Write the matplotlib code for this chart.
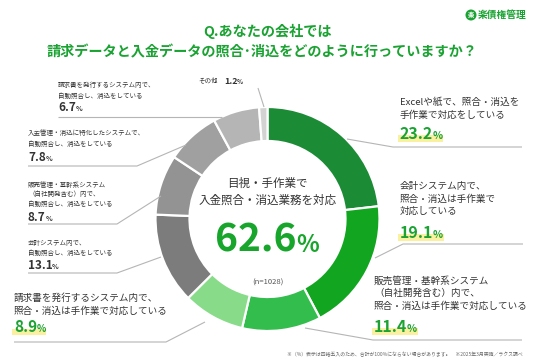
import matplotlib
matplotlib.use("Agg")
import matplotlib.pyplot as plt
from matplotlib.patches import Rectangle, Circle

plt.rcParams['font.family'] = ['Noto Sans CJK JP', 'DejaVu Sans']

# ---- data ----
categories = [
    "Excelや紙で、照合・消込を\n手作業で対応をしている",
    "会計システム内で、\n照合・消込は手作業で\n対応している",
    "販売管理・基幹系システム\n（自社開発含む）内で、\n照合・消込は手作業で対応している",
    "請求書を発行するシステム内で、\n照合・消込は手作業で対応している",
    "会計システム内で、\n自動照合し、消込をしている",
    "販売管理・基幹系システム\n（自社開発含む）内で、\n自動照合し、消込をしている",
    "入金管理・消込に特化したシステムで、\n自動照合し、消込をしている",
    "請求書を発行するシステム内で、\n自動照合し、消込をしている",
    "その他",
]
values = [23.2, 19.1, 11.4, 8.9, 13.1, 8.7, 7.8, 6.7, 1.2]
colors = ["#1b8b35", "#12a520", "#33bd4c", "#88db88",
          "#7c7c7c", "#939393", "#a0a0a0", "#b5b5b5", "#d3d3d3"]
title_lines = ["Q.あなたの会社では", "請求データと入金データの照合･消込をどのように行っていますか？"]
center_lines = ["目視・手作業で", "入金照合・消込業務を対応"]
center_value = "62.6"
n_label = "(n=1028)"
footnote = "※（%）表示は四捨五入のため、合計が100%にならない場合があります。　※2025年3月実施／ラクス調べ"
brand = "楽債権管理"

W, H = 536, 363
GREEN = "#1aa232"
TXT = "#333333"
LINE = "#b5b5b5"

fig = plt.figure(figsize=(W / 100, H / 100), dpi=100)
ax = fig.add_axes([0, 0, 1, 1])
ax.set_xlim(0, W)
ax.set_ylim(0, H)
ax.axis('off')

def Y(y):
    return H - y

cx, cy, R, RW = 267.5, 219, 112, 34
ax.pie(values, colors=colors, startangle=90, counterclock=False, radius=R,
       center=(cx, Y(cy)), frame=True,
       wedgeprops=dict(width=RW, edgecolor='white', linewidth=1.6))
ax.set_xlim(0, W)
ax.set_ylim(0, H)
ax.set_aspect('auto')
ax.axis('off')

renderer = fig.canvas.get_renderer()

def width_of(t):
    bb = t.get_window_extent(renderer=renderer)
    return bb.width  # pixels == data units

def pct(x, yc, num, size, color, psize, highlight=False):
    base = Y(yc) - size / 72 * 100 * 0.36
    t = ax.text(x, base, num, fontsize=size, fontweight='bold', color=color,
                ha='left', va='baseline', zorder=5)
    w = width_of(t)
    t2 = ax.text(x + w - 0.5, base, "%", fontsize=psize, fontweight='bold',
                 color=color, ha='left', va='baseline', zorder=5)
    w2 = width_of(t2)
    if highlight:
        hpx = size / 72 * 100
        ax.add_patch(Rectangle((x - 2, base - 0.18 * hpx), w + w2 + 2, 0.42 * hpx,
                               facecolor="#fbf0a0", edgecolor='none', zorder=4))

def lines(x, ys, text, size, color=TXT):
    for yy, s in zip(ys, text.split("\n")):
        ax.text(x, Y(yy), s, fontsize=size, color=color, ha='left', va='center')

def leader(pts):
    xs = [p[0] for p in pts]
    ys = [Y(p[1]) for p in pts]
    ax.plot(xs, ys, color=LINE, lw=0.8, solid_capstyle='butt', zorder=1)

# title
ax.text(W / 2, Y(31), title_lines[0], fontsize=10.2, fontweight='bold', color=GREEN,
        ha='center', va='center')
ax.text(W / 2 - 6, Y(52), title_lines[1], fontsize=10.2, fontweight='bold', color=GREEN,
        ha='center', va='center')

# brand
ax.add_patch(Circle((471, Y(15)), 5.5, facecolor=GREEN, edgecolor='none'))
ax.text(471, Y(15), "楽", fontsize=4.5, color='white', fontweight='bold', ha='center', va='center')
ax.text(478, Y(15), brand, fontsize=7, color=GREEN, fontweight='bold', ha='left', va='center')

# center texts
ax.text(cx, Y(183), center_lines[0], fontsize=8.3, color=TXT, ha='center', va='center')
ax.text(cx, Y(200), center_lines[1], fontsize=8.3, color=TXT, ha='center', va='center')
t = ax.text(0, 0, center_value, fontsize=28, fontweight='bold')
wv = width_of(t); t.remove()
t = ax.text(0, 0, "%", fontsize=17, fontweight='bold')
wp = width_of(t); t.remove()
x0 = cx - (wv + wp) / 2
pct(x0, 238, center_value, 28, "#17a52b", 17)
ax.text(cx, Y(283), n_label, fontsize=5.5, color="#555555", ha='center', va='center')

# left small labels
small = 4.7
numsz = 8.5
# その他
ax.text(198, Y(81), categories[8], fontsize=small, color=TXT, ha='left', va='center')
pct(224, 81, f"{values[8]}", 6.5, TXT, 4.5)
leader([(258, 88), (264, 107)])

lines(58, [85, 96], categories[7], small)
pct(58, 107, f"{values[7]}", numsz, TXT, 5)
leader([(58, 117), (222, 117)])

lines(28, [133, 144], categories[6], small)
pct(28, 157, f"{values[6]}", numsz, TXT, 5)
leader([(28, 166), (137, 166), (186, 145)])

lines(28, [185, 194, 204], categories[5], small)
pct(28, 217, f"{values[5]}", numsz, TXT, 5)
leader([(28, 224), (117, 224), (161, 196)])

lines(28, [243, 253], categories[4], small)
pct(28, 265, f"{values[4]}", numsz, TXT, 5)
leader([(28, 273), (117, 273), (161, 257)])

big = 6.9
lines(14, [298, 311], categories[3], big)
pct(14, 327, f"{values[3]}", 11, GREEN, 7, highlight=True)
leader([(14, 342), (166, 342), (205, 322)])

# right labels
lines(400, [102, 115], categories[0], big)
pct(400, 133, f"{values[0]}", 11.5, GREEN, 7.5, highlight=True)
leader([(347, 139), (393, 147), (522, 147)])

lines(400, [187, 199, 211], categories[1], big)
pct(400, 232, f"{values[1]}", 11.5, GREEN, 7.5, highlight=True)
leader([(375, 258), (403, 244), (523, 244)])

lines(374, [281, 293, 306], categories[2], big)
pct(374, 326, f"{values[2]}", 11.5, GREEN, 7.5, highlight=True)
leader([(305, 328), (373, 340), (522, 340)])

# footnote
ax.text(523, Y(354), footnote, fontsize=3.5, color="#666666", ha='right', va='center')

fig.savefig("out.png", dpi=100)
